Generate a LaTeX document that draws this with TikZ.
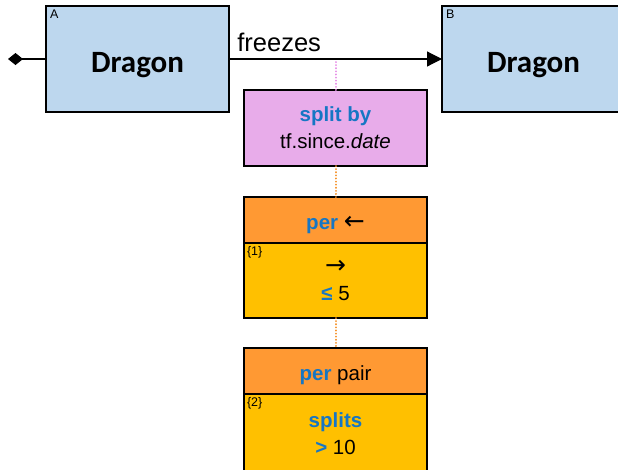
\documentclass[tikz,border=0pt]{standalone}
\usepackage{fontspec}
\setmainfont{Liberation Sans}
\newfontfamily\dragonfont{Carlito}
\newfontfamily\arrowfont{DejaVu Sans}
\usetikzlibrary{arrows.meta,positioning}
\definecolor{entityblue}{RGB}{189,215,238}
\definecolor{splitpink}{RGB}{232,172,234}
\definecolor{perorange}{RGB}{255,153,51}
\definecolor{bodygold}{RGB}{255,192,0}
\definecolor{kwblue}{RGB}{22,118,196}
\definecolor{dotpink}{RGB}{230,140,230}
\definecolor{dotorange}{RGB}{245,145,40}
\newcommand{\kw}[1]{\textcolor{kwblue}{\bfseries #1}}
\newcommand{\arr}[1]{{\arrowfont\fontsize{25}{27}\selectfont #1}}

\begin{document}
\begin{tikzpicture}[
    x=1pt, y=1pt,
    every node/.style={font=\fontsize{20.5}{27}\selectfont, outer sep=0pt},
    entity/.style={rectangle, draw=black, line width=1.5pt, fill=entityblue, minimum width=183pt, minimum height=106pt, text height=26pt, text depth=0pt, font=\dragonfont\fontsize{31}{36}\selectfont\bfseries},
    splitbox/.style={rectangle, draw=black, line width=2pt, fill=splitpink, minimum width=183pt, minimum height=76pt, align=center, text depth=0pt},
    perhead/.style={rectangle, draw=black, line width=1.5pt, fill=perorange, minimum width=183pt, minimum height=46pt, text height=18pt, text depth=0pt},
    perbody/.style={rectangle, draw=black, line width=1.5pt, fill=bodygold, minimum width=183pt, minimum height=75pt, align=center, text depth=0pt},
    tag/.style={inner sep=1pt, font=\fontsize{12.5}{14}\selectfont},
    assoc/.style={-{Triangle[length=15pt,width=15pt]}, line width=1.2pt},
    owner/.style={-{Diamond[length=15pt,width=12pt]}, line width=1.2pt},
    pinkdots/.style={draw=dotpink, line width=2pt, line cap=round, dash pattern=on 0.1pt off 3pt},
    orangedots/.style={draw=dotorange, line width=2pt, line cap=round, dash pattern=on 0.1pt off 3pt}
]
\useasboundingbox (0,0) rectangle (618,-469);
\clip (0,0) rectangle (618,-469);

% entities
\node[entity] (dragA) at (137.5,-59) {Dragon};
\node[entity] (dragB) at (533.5,-59) {Dragon};
\node[tag, anchor=north west] (tagA) at ([xshift=3pt,yshift=-3pt]dragA.north west) {A};
\node[tag, anchor=north west] (tagB) at ([xshift=3pt,yshift=-3pt]dragB.north west) {B};

% relation
\coordinate (root) at (8,-59);
\draw[owner] (dragA.west) -- (root);
\draw[assoc] (dragA.east) -- node[pos=0, anchor=south west, xshift=5pt, yshift=4pt, font=\fontsize{25.5}{30}\selectfont] (verb) {freezes} (dragB.west);

% split and per boxes
\node[splitbox] (split) at (335.5,-128) {\kw{split by}\\tf.since.\textit{date}};
\node[perhead, below=31pt of split] (hdrone) {\kw{per} \arr{←}};
\node[perbody, below=0pt of hdrone] (bodyone) {\arr{→}\\\kw{≤} 5};
\node[perhead, below=30pt of bodyone] (hdrtwo) {\kw{per} pair};
\node[perbody, below=0pt of hdrtwo, minimum height=80pt] (bodytwo) {\kw{splits}\\\kw{>} 10};
\node[tag, anchor=north west] (numone) at ([xshift=2pt,yshift=-2pt]bodyone.north west) {\{1\}};
\node[tag, anchor=north west] (numtwo) at ([xshift=2pt,yshift=-2pt]bodytwo.north west) {\{2\}};

% dotted links
\coordinate (tap) at (335.5,-62);
\draw[pinkdots] (tap) -- (split.north);
\draw[orangedots] (split.south) -- (hdrone.north);
\draw[orangedots] (bodyone.south) -- (hdrtwo.north);

\end{tikzpicture}
\end{document}
